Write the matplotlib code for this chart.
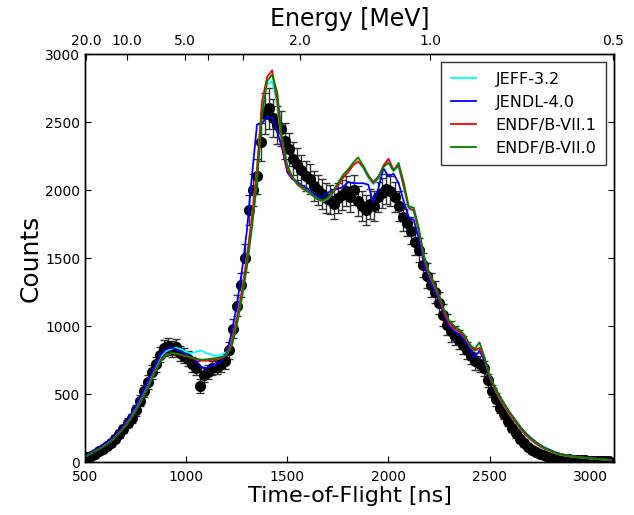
import numpy as np
import matplotlib
matplotlib.use("Agg")
import matplotlib.pyplot as plt

# simulated spectra, 25 ns bins from 500 to 3100 ns
tof_sim = np.arange(500, 3101, 25)

endf71 = [40, 60, 80, 100, 125, 150, 185, 225, 270, 320, 380, 450, 520, 600, 680, 750,
          790, 800, 795, 785, 775, 765, 755, 745, 745, 750, 755, 765, 790, 880, 1050, 1250,
          1500, 1800, 2150, 2650, 2830, 2880, 2650, 2330, 2150, 2090, 2040, 2010, 1990, 1960,
          1930, 1920, 1940, 1980, 2030, 2090, 2130, 2180, 2210, 2170, 2100, 2050, 2090, 2180,
          2230, 2150, 2180, 2030, 1870, 1850, 1700, 1500, 1380, 1300, 1210, 1100, 1020, 980,
          960, 920, 860, 820, 840, 760, 630, 540, 470, 410, 350, 300, 250, 205, 170, 140,
          115, 95, 80, 65, 55, 48, 42, 38, 34, 30, 27, 24, 21, 18, 15]
endf70 = [38, 58, 78, 98, 120, 148, 180, 220, 262, 312, 372, 440, 510, 590, 670, 742,
          785, 800, 798, 790, 780, 770, 760, 752, 755, 760, 765, 772, 785, 850, 1000, 1200,
          1430, 1720, 2050, 2550, 2800, 2850, 2720, 2380, 2180, 2100, 2050, 2020, 1995, 1965,
          1935, 1925, 1945, 1990, 2050, 2110, 2150, 2200, 2240, 2180, 2110, 2060, 2100, 2170,
          2200, 2140, 2200, 2060, 1880, 1870, 1720, 1520, 1400, 1320, 1230, 1120, 1040, 1000,
          975, 935, 870, 830, 880, 770, 640, 555, 485, 425, 365, 315, 262, 218, 180, 150,
          124, 102, 86, 70, 60, 52, 45, 40, 36, 32, 28, 25, 22, 19, 16]
jendl40 = [45, 68, 90, 112, 138, 165, 200, 242, 290, 345, 410, 480, 555, 635, 715, 790,
           830, 840, 830, 810, 790, 770, 740, 700, 690, 710, 720, 740, 800, 950, 1150, 1400,
           1700, 2100, 2480, 2490, 2540, 2530, 2430, 2300, 2130, 2080, 2060, 2030, 2010, 1980,
           1950, 1950, 1980, 2000, 2010, 2020, 2060, 2050, 2050, 2050, 2040, 1910, 2010, 2160,
           2100, 2120, 2050, 1920, 1800, 1780, 1640, 1460, 1350, 1270, 1190, 1080, 1000, 960,
           940, 900, 840, 770, 820, 740, 620, 540, 475, 418, 360, 312, 262, 218, 182, 152,
           126, 104, 88, 72, 60, 52, 45, 40, 36, 32, 28, 25, 22, 19, 16]
jeff32 = [42, 64, 85, 106, 130, 158, 192, 232, 280, 332, 395, 465, 540, 620, 700, 775,
          815, 830, 840, 830, 810, 800, 810, 820, 800, 790, 780, 790, 810, 890, 1060, 1260,
          1510, 1800, 2150, 2620, 2780, 2800, 2620, 2320, 2150, 2090, 2040, 2010, 1985, 1955,
          1925, 1915, 1935, 1975, 2030, 2090, 2140, 2190, 2210, 2160, 2090, 2040, 2080, 2170,
          2210, 2140, 2170, 2020, 1860, 1840, 1690, 1490, 1370, 1290, 1200, 1090, 1010, 975,
          955, 915, 855, 815, 830, 755, 625, 535, 465, 405, 345, 296, 246, 202, 167, 137,
          112, 92, 78, 63, 53, 46, 40, 36, 32, 28, 25, 22, 19, 16, 13]

# measured spectrum, 20 ns bins
tof_exp = np.arange(510, 3100, 20)
counts_exp = [35, 45, 60, 80, 95, 120, 140, 170, 205, 240, 290, 320, 380, 450, 520, 590,
              660, 720, 790, 840, 850, 830, 845, 800, 780, 760, 720, 690, 560, 640, 660, 690,
              700, 720, 740, 820, 980, 1150, 1300, 1500, 1850, 2000, 2100, 2350, 2560, 2600,
              2530, 2480, 2450, 2360, 2300, 2230, 2190, 2150, 2100, 2080, 2030, 2000, 1970, 1940,
              1930, 1900, 1940, 1960, 1990, 1950, 2000, 1920, 1880, 1850, 1900, 1880, 1950, 1980,
              2010, 1990, 1950, 1880, 1800, 1760, 1700, 1620, 1560, 1450, 1370, 1300, 1250, 1170,
              1080, 1010, 960, 930, 900, 860, 820, 780, 740, 720, 690, 600, 520, 460, 400, 350,
              300, 250, 210, 170, 140, 110, 90, 70, 60, 50, 40, 35, 30, 25, 22, 20,
              18, 15, 14, 12, 10, 9, 8, 7, 6, 5]
err_exp = [15, 15, 18, 20, 20, 22, 25, 25, 28, 30, 32, 35, 40, 40, 45, 50,
           50, 55, 55, 60, 60, 60, 60, 55, 55, 55, 55, 50, 50, 50, 50, 50,
           50, 55, 55, 60, 70, 80, 90, 100, 110, 120, 130, 140, 150, 150,
           140, 140, 130, 130, 120, 120, 120, 110, 110, 110, 110, 110, 110, 110,
           110, 110, 110, 110, 110, 110, 110, 110, 110, 110, 110, 110, 110, 110,
           110, 110, 110, 110, 100, 100, 100, 100, 90, 90, 90, 90, 80, 80,
           80, 75, 75, 70, 70, 65, 65, 60, 60, 60, 55, 50, 45, 45, 40, 35,
           35, 30, 30, 25, 25, 20, 18, 16, 14, 12, 10, 10, 8, 8, 6, 6,
           5, 5, 5, 4, 4, 4, 3, 3, 3, 3]

# energy axis on top
energy_ticks = [20.0, 10.0, 5.0, 4.0, 3.0, 2.0, 1.0, 0.5]
energy_labels = ['20.0', '10.0', '5.0', '', '', '2.0', '1.0', '0.5']
t_offset = 15.0    # ns
t_per_sqrtE = 2190.0  # ns * sqrt(MeV)

fig = plt.figure(figsize=(6.34, 5.15), dpi=100)
ax = fig.add_axes([0.1341, 0.1029, 0.8344, 0.7922])

ax.errorbar(tof_exp, counts_exp, yerr=err_exp, fmt='o', color='black', ms=7,
            ecolor='#333333', elinewidth=1, capsize=3, zorder=2)

ax.plot(tof_sim, jeff32, color='#00ffff', lw=1.3, label='JEFF-3.2', zorder=3)
ax.plot(tof_sim, jendl40, color='#0000ff', lw=1.3, label='JENDL-4.0', zorder=3)
ax.plot(tof_sim, endf71, color='#ff0000', lw=1.3, label='ENDF/B-VII.1', zorder=3)
ax.plot(tof_sim, endf70, color='#008000', lw=1.3, label='ENDF/B-VII.0', zorder=3)

ax.set_xlim(500, 3115)
ax.set_ylim(0, 3000)
ax.set_xticks([500, 1000, 1500, 2000, 2500, 3000])
ax.set_yticks([0, 500, 1000, 1500, 2000, 2500, 3000])
ax.tick_params(direction='in', length=4, labelsize=10, right=True, top=False)
ax.tick_params(axis='x', pad=6)
ax.set_xlabel('Time-of-Flight [ns]', fontsize=16, labelpad=1)
ax.set_ylabel('Counts', fontsize=18, labelpad=2)

leg = ax.legend(loc='upper right', fontsize=11.5, handlelength=1.6, borderpad=0.6,
                labelspacing=0.5, handletextpad=1.2, fancybox=False,
                bbox_to_anchor=(1.0, 1.0), borderaxespad=0.5)
leg.get_frame().set_edgecolor('black')

ax2 = ax.twiny()
ax2.set_xlim(ax.get_xlim())
ax2.set_xticks([t_offset + t_per_sqrtE / np.sqrt(e) for e in energy_ticks])
ax2.set_xticklabels(energy_labels)
ax2.tick_params(direction='in', length=4, labelsize=10, pad=4)
ax2.set_xlabel('Energy [MeV]', fontsize=17, labelpad=6)

for a in (ax, ax2):
    for s in a.spines.values():
        s.set_linewidth(1.0)

fig.savefig('out.png', dpi=100)
